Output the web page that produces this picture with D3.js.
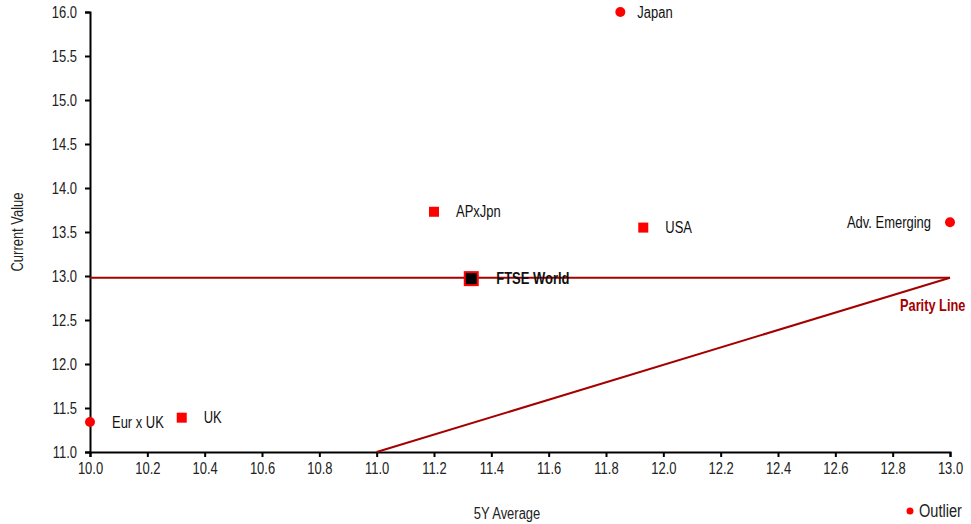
<!DOCTYPE html>
<html>
<head>
<meta charset="utf-8">
<style>
  body { margin: 0; background: #fff; }
  text { font-family: "Liberation Sans", Arial, sans-serif; }
</style>
</head>
<body>
<script src="https://cdnjs.cloudflare.com/ajax/libs/d3/7.8.5/d3.min.js"></script>
<script>
// regions and their P/E values
var names   = ['Japan', 'APxJpn', 'USA', 'Adv. Emerging', 'FTSE World', 'Eur x UK', 'UK'];
var avg5y   = [11.85, 11.20, 11.93, 13.00, 11.33, 10.00, 10.32];
var current = [16.00, 13.73, 13.55, 13.61, 12.97, 11.34, 11.39];
var outlier = [true, false, false, true, false, true, false];

var xTicks = [10.0, 10.2, 10.4, 10.6, 10.8, 11.0, 11.2, 11.4, 11.6, 11.8, 12.0, 12.2, 12.4, 12.6, 12.8, 13.0];
var yTicks = [11.0, 11.5, 12.0, 12.5, 13.0, 13.5, 14.0, 14.5, 15.0, 15.5, 16.0];

var worldLineY = 12.98;
var parityX = [11.0, 13.0];
var parityY = [11.0, 12.98];

var W = 971, H = 524;
var margin = { top: 12, right: 21, bottom: 72, left: 90 };
var red = '#ff0000', darkRed = '#a50000';

var svg = d3.select('body').append('svg')
  .attr('width', W)
  .attr('height', H);

var x = d3.scaleLinear().domain([10, 13]).range([margin.left, W - margin.right]);
var y = d3.scaleLinear().domain([11, 16]).range([H - margin.bottom, margin.top]);

// axes
var xAxis = svg.append('g')
  .attr('transform', 'translate(0,' + y(11) + ')')
  .call(d3.axisBottom(x).tickValues(xTicks).tickFormat(d3.format('.1f')).tickSize(5).tickPadding(6));
var yAxis = svg.append('g')
  .attr('transform', 'translate(' + x(10) + ',0)')
  .call(d3.axisLeft(y).tickValues(yTicks).tickFormat(d3.format('.1f')).tickSize(5).tickPadding(8));

[xAxis, yAxis].forEach(function(g) {
  g.select('.domain').attr('stroke', '#000').attr('stroke-width', 2);
  g.selectAll('.tick line').attr('stroke', '#000').attr('stroke-width', 2);
  g.selectAll('.tick text').attr('font-size', 16).attr('fill', '#222')
    .style('font-family', '"Liberation Sans", Arial, sans-serif');
});

// reference lines
svg.append('line')
  .attr('x1', x(10)).attr('x2', x(13))
  .attr('y1', y(worldLineY)).attr('y2', y(worldLineY))
  .attr('stroke', darkRed).attr('stroke-width', 2);

svg.append('path')
  .datum(d3.zip(parityX, parityY))
  .attr('d', d3.line().x(d => x(d[0])).y(d => y(d[1])))
  .attr('fill', 'none')
  .attr('stroke', darkRed).attr('stroke-width', 2);

// points
var pts = names.map((n, i) => ({ name: n, x: avg5y[i], y: current[i], outlier: outlier[i] }));

var g = svg.append('g');
pts.forEach(function(d) {
  var cx = x(d.x), cy = y(d.y);
  if (d.name === 'FTSE World') {
    g.append('rect').attr('x', cx - 6.5).attr('y', cy - 6.5).attr('width', 13).attr('height', 13)
      .attr('fill', '#000').attr('stroke', red).attr('stroke-width', 2);
  } else if (d.outlier) {
    g.append('circle').attr('cx', cx).attr('cy', cy).attr('r', 5).attr('fill', red);
  } else {
    g.append('rect').attr('x', cx - 5).attr('y', cy - 5).attr('width', 10).attr('height', 10).attr('fill', red);
  }
  var right = d.name === 'Adv. Emerging';
  g.append('text')
    .attr('x', right ? cx - 19 : cx + (d.name === 'Japan' ? 17 : d.name === 'FTSE World' ? 25 : 22))
    .attr('y', cy).attr('dy', '0.35em')
    .attr('text-anchor', right ? 'end' : 'start')
    .attr('font-size', 16)
    .attr('font-weight', d.name === 'FTSE World' ? 'bold' : 'normal')
    .attr('fill', '#111')
    .text(d.name);
});

// axis titles
svg.append('text')
  .attr('transform', 'translate(23,' + (margin.top + 220) + ') rotate(-90)')
  .attr('text-anchor', 'middle').attr('font-size', 16).attr('fill', '#222')
  .text('Current Value');
svg.append('text')
  .attr('x', 507).attr('y', 519)
  .attr('text-anchor', 'middle').attr('font-size', 16).attr('fill', '#222')
  .text('5Y Average');

// legend
svg.append('circle').attr('cx', 910).attr('cy', 511).attr('r', 3.5).attr('fill', red);
svg.append('text').attr('x', 919).attr('y', 511).attr('dy', '0.35em')
  .attr('font-size', 18).attr('fill', '#222').text('Outlier');

// the original uses a narrow face; squeeze every label horizontally
svg.selectAll('text').each(function() {
  var w = this.getComputedTextLength();
  d3.select(this).attr('textLength', w * 0.81).attr('lengthAdjust', 'spacingAndGlyphs');
});

// parity label squeezed with a transform so its box stays inside the page
svg.append('text')
  .attr('transform', 'translate(' + (x(13) - 50) + ',' + (y(parityY[1]) + 33) + ') scale(0.8,1)')
  .attr('font-size', 16).attr('font-weight', 'bold').attr('fill', darkRed)
  .text('Parity Line');
</script>
</body>
</html>
